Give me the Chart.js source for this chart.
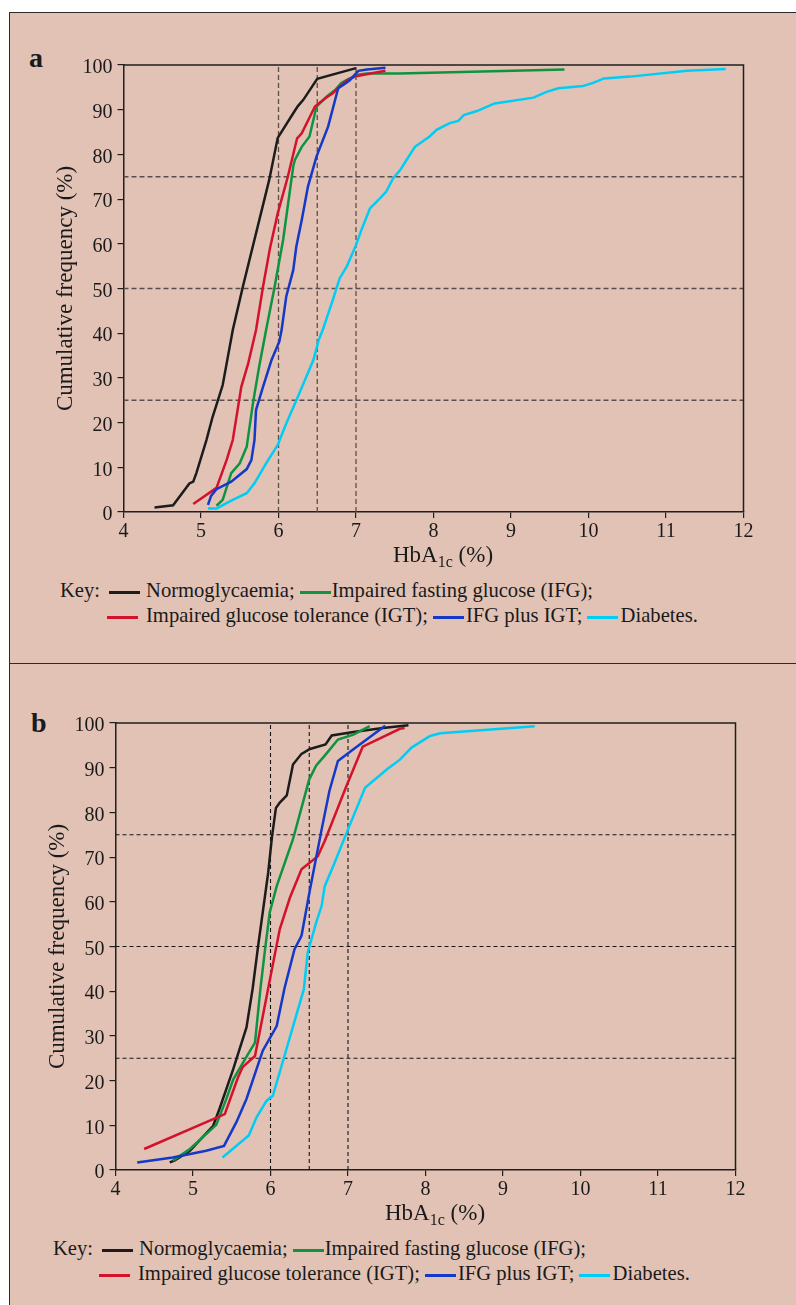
<!DOCTYPE html>
<html>
<head>
<meta charset="utf-8">
<title>HbA1c cumulative frequency</title>
<script src="https://cdn.jsdelivr.net/npm/chart.js"></script>
<style>
    body {
        margin: 0;
        padding: 0;
        width: 796px;
        height: 1305px;
        overflow: hidden;
        position: relative;
        background: #ffffff;
        color: #1a1a1a;
        font-family: "Liberation Serif", serif;
    }
    .panel {
        position: absolute;
        left: 9px;
        width: 800px;
        background: #e1c2b5;
        border: 1.5px solid #2a2a2a;
        border-right: none;
        box-sizing: border-box;
    }
    #panelA { top: 12px; height: 652px; }
    #panelB { top: 664px; height: 700px; border-top: none; border-bottom: none; }
    .tag {
        position: absolute;
        font-weight: bold;
        font-size: 28px;
        line-height: 28px;
    }
    canvas { position: absolute; }
    .xtitle {
        position: absolute;
        font-size: 23px;
        line-height: 26px;
        white-space: nowrap;
    }
    .xtitle sub { font-size: 16px; vertical-align: -5px; line-height: 0; }
    .row {
        position: absolute;
        font-size: 20.6px;
        line-height: 24px;
        white-space: nowrap;
    }
    .ln {
        display: inline-block;
        width: 31px;
        height: 0;
        border-top: 3px solid;
        vertical-align: middle;
    }
</style>
</head>
<body>
    <div class="panel" id="panelA"></div>
    <div class="panel" id="panelB"></div>

    <div class="tag" style="left:29px; top:44px;">a</div>
    <div class="tag" style="left:31px; top:709px;">b</div>

    <canvas id="chartA" width="760" height="510" style="left:20px; top:40px;"></canvas>
    <canvas id="chartB" width="760" height="510" style="left:12px; top:698px;"></canvas>

    <div class="xtitle" style="left:393px; top:542px;">HbA<sub>1c</sub> (%)</div>
    <div class="xtitle" style="left:385px; top:1200px;">HbA<sub>1c</sub> (%)</div>

    <!-- key, panel a -->
    <div class="row" style="left:60px; top:578px;"><span>Key:</span><span class="ln" style="margin:0 6px 0 9px; border-color:#1c1c1c"></span><span>Normoglycaemia;</span><span class="ln" style="margin:0 1px 0 5px; border-color:#0e9440"></span><span>Impaired fasting glucose (IFG);</span></div>
    <div class="row" style="left:107px; top:603px;"><span class="ln" style="margin:0 8px 0 0; border-color:#d4122c"></span><span>Impaired glucose tolerance (IGT);</span><span class="ln" style="margin:0 2px 0 5px; border-color:#1438c8"></span><span>IFG plus IGT;</span><span class="ln" style="margin:0 3px 0 4px; border-color:#00cdf5"></span><span>Diabetes.</span></div>

    <!-- key, panel b -->
    <div class="row" style="left:53px; top:1236px;"><span>Key:</span><span class="ln" style="margin:0 6px 0 9px; border-color:#1c1c1c"></span><span>Normoglycaemia;</span><span class="ln" style="margin:0 1px 0 5px; border-color:#0e9440"></span><span>Impaired fasting glucose (IFG);</span></div>
    <div class="row" style="left:99px; top:1261px;"><span class="ln" style="margin:0 8px 0 0; border-color:#d4122c"></span><span>Impaired glucose tolerance (IGT);</span><span class="ln" style="margin:0 2px 0 5px; border-color:#1438c8"></span><span>IFG plus IGT;</span><span class="ln" style="margin:0 3px 0 4px; border-color:#00cdf5"></span><span>Diabetes.</span></div>

<script>
// axis limits and reference lines
const xRange = [4, 12];
const yRange = [0, 100];
const refX = [6, 6.5, 7];
const refY = [25, 50, 75];

const seriesNames = ['Normoglycaemia', 'Impaired fasting glucose (IFG)', 'Impaired glucose tolerance (IGT)', 'IFG plus IGT', 'Diabetes'];
const seriesColors = ['#1c1c1c', '#0e9440', '#d4122c', '#1438c8', '#00cdf5'];

// panel a
const aNormX = [4.40, 4.64, 4.85, 4.90, 4.94, 5.07, 5.15, 5.22, 5.28, 5.41, 5.54, 5.88, 5.99, 6.19, 6.25, 6.32, 6.50, 7.00];
const aNormY = [1.0, 1.5, 6.4, 6.8, 8.7, 16.1, 21.3, 25.1, 28.4, 40.7, 50.4, 74.3, 83.7, 89.2, 90.8, 92.2, 96.9, 99.3];
const aIfgX = [5.20, 5.28, 5.39, 5.50, 5.59, 5.67, 5.75, 5.84, 5.95, 6.06, 6.19, 6.21, 6.30, 6.40, 6.49, 6.62, 6.73, 6.81, 6.92, 7.03, 7.14, 7.56, 9.69];
const aIfgY = [1.4, 2.7, 8.7, 10.9, 14.6, 24.3, 32.5, 40.7, 50.4, 60.9, 77.3, 78.7, 81.7, 84.0, 90.7, 92.9, 94.4, 96.0, 97.0, 97.8, 98.1, 98.1, 99.0];
const aIgtX = [4.90, 5.20, 5.33, 5.41, 5.52, 5.61, 5.71, 5.80, 5.89, 5.99, 6.12, 6.24, 6.30, 6.47, 6.60, 6.70, 6.88, 7.00, 7.38];
const aIgtY = [1.8, 5.4, 11.6, 16.1, 28.0, 33.3, 40.7, 50.4, 59.0, 66.8, 75.0, 83.6, 84.7, 90.7, 92.5, 93.7, 96.6, 97.5, 98.7];
const aBothX = [5.09, 5.13, 5.20, 5.39, 5.59, 5.65, 5.69, 5.71, 5.80, 5.91, 6.01, 6.04, 6.10, 6.19, 6.23, 6.30, 6.38, 6.49, 6.64, 6.77, 6.83, 6.92, 7.03, 7.14, 7.38];
const aBothY = [1.6, 3.6, 5.1, 6.8, 9.6, 11.6, 16.1, 22.8, 28.0, 34.0, 38.1, 40.7, 48.2, 54.1, 59.4, 65.3, 72.8, 79.5, 86.2, 94.8, 95.5, 96.6, 98.7, 99.0, 99.4];
const aDiabX = [5.09, 5.20, 5.41, 5.59, 5.69, 5.84, 5.99, 6.10, 6.25, 6.45, 6.52, 6.57, 6.70, 6.79, 6.88, 7.00, 7.07, 7.18, 7.29, 7.39, 7.48, 7.57, 7.65, 7.76, 7.95, 8.04, 8.21, 8.32, 8.39, 8.56, 8.79, 9.29, 9.46, 9.61, 9.93, 10.06, 10.20, 10.54, 11.27, 11.77];
const aDiabY = [0.8, 0.8, 2.7, 4.2, 6.4, 10.9, 15.0, 19.8, 25.8, 34.0, 38.5, 40.7, 47.4, 52.3, 54.9, 59.7, 63.1, 67.9, 69.8, 71.7, 74.7, 76.5, 78.7, 81.7, 84.0, 85.5, 87.0, 87.5, 88.8, 89.7, 91.4, 92.7, 94.0, 94.8, 95.3, 96.0, 97.0, 97.4, 98.7, 99.1];

// panel b
const bNormX = [4.70, 4.76, 4.96, 5.26, 5.34, 5.52, 5.69, 5.77, 5.84, 5.97, 6.02, 6.07, 6.12, 6.21, 6.29, 6.40, 6.51, 6.71, 6.79, 7.07, 7.45, 7.78];
const bNormY = [1.7, 2.1, 4.3, 9.9, 13.6, 22.6, 31.9, 40.6, 50.1, 66.5, 74.7, 81.0, 82.2, 83.8, 90.7, 93.1, 94.2, 95.2, 97.2, 98.0, 98.9, 99.5];
const bIfgX = [4.74, 4.96, 5.30, 5.43, 5.52, 5.71, 5.80, 5.87, 5.93, 5.99, 6.08, 6.29, 6.50, 6.59, 6.70, 6.87, 7.07, 7.28];
const bIfgY = [2.1, 4.7, 10.1, 15.9, 20.3, 25.9, 28.5, 40.6, 49.4, 57.6, 63.5, 74.0, 87.4, 90.5, 92.7, 96.3, 97.4, 99.3];
const bIgtX = [4.37, 5.41, 5.58, 5.64, 5.80, 5.86, 5.98, 6.12, 6.25, 6.40, 6.61, 6.70, 6.98, 7.19, 7.67, 7.73];
const bIgtY = [4.7, 12.5, 20.7, 23.0, 25.5, 30.8, 41.5, 53.9, 60.9, 67.3, 70.2, 73.6, 85.9, 94.7, 98.7, 98.9];
const bBothX = [4.28, 4.74, 5.17, 5.40, 5.56, 5.69, 5.90, 6.08, 6.18, 6.31, 6.40, 6.51, 6.66, 6.76, 6.87, 7.07, 7.48];
const bBothY = [1.7, 2.8, 4.3, 5.4, 10.7, 15.9, 26.7, 32.2, 40.6, 49.4, 52.4, 62.8, 76.2, 84.8, 91.5, 94.1, 99.4];
const bDiabX = [5.38, 5.72, 5.82, 5.95, 6.03, 6.18, 6.33, 6.43, 6.48, 6.51, 6.59, 6.66, 6.70, 6.81, 7.00, 7.22, 7.50, 7.67, 7.82, 8.06, 8.19, 9.41];
const bDiabY = [2.8, 7.7, 11.8, 15.5, 16.6, 25.5, 34.5, 40.4, 48.6, 50.5, 55.4, 59.1, 63.5, 68.0, 76.2, 85.5, 89.6, 91.8, 94.5, 97.1, 97.7, 99.3];

function pts(xs, ys) {
    return xs.map((x, i) => ({ x: x, y: ys[i] }));
}

// top and right edges of the plot box
const framePlugin = {
    id: 'frame',
    afterDraw(chart) {
        const { ctx, chartArea: a } = chart;
        ctx.save();
        ctx.strokeStyle = '#1f1f1f';
        ctx.lineWidth = 1.5;
        ctx.beginPath();
        ctx.moveTo(a.left, a.top);
        ctx.lineTo(a.right, a.top);
        ctx.lineTo(a.right, a.bottom);
        ctx.stroke();
        ctx.restore();
    }
};

function makeChart(id, series, refColor, refWidth, refDash) {
    const datasets = [];
    series.forEach((s, i) => {
        datasets.push({
            label: seriesNames[i],
            data: pts(s[0], s[1]),
            borderColor: seriesColors[i],
            borderWidth: 2.5,
            pointRadius: 0,
            tension: 0,
            order: 5 - i
        });
    });
    refX.forEach(v => {
        datasets.push({
            label: 'ref',
            data: [{ x: v, y: yRange[0] }, { x: v, y: yRange[1] }],
            borderColor: refColor, borderWidth: refWidth, borderDash: refDash,
            pointRadius: 0, order: 20
        });
    });
    refY.forEach(v => {
        datasets.push({
            label: 'ref',
            data: [{ x: xRange[0], y: v }, { x: xRange[1], y: v }],
            borderColor: refColor, borderWidth: refWidth, borderDash: refDash,
            pointRadius: 0, order: 20
        });
    });

    const tickFont = { family: 'Liberation Serif', size: 20 };
    return new Chart(document.getElementById(id), {
        type: 'line',
        data: { datasets: datasets },
        options: {
            responsive: false,
            animation: false,
            layout: { padding: { left: 0, top: 25, right: 36.5, bottom: 0 } },
            plugins: { legend: { display: false }, tooltip: { enabled: false } },
            scales: {
                x: {
                    type: 'linear',
                    min: xRange[0], max: xRange[1],
                    ticks: { stepSize: 1, color: '#1a1a1a', font: tickFont, padding: 2, maxRotation: 0 },
                    grid: { drawOnChartArea: false, drawTicks: true, tickLength: 6, color: '#1f1f1f', lineWidth: 1.2 },
                    border: { color: '#1f1f1f', width: 1.5 },
                    afterFit(scale) { scale.height = 38; }
                },
                y: {
                    min: yRange[0], max: yRange[1],
                    ticks: { stepSize: 10, color: '#1a1a1a', font: tickFont, padding: 5, labelOffset: 3 },
                    grid: { drawOnChartArea: false, drawTicks: true, tickLength: 6, color: '#1f1f1f', lineWidth: 1.2 },
                    border: { color: '#1f1f1f', width: 1.5 },
                    title: {
                        display: true,
                        text: 'Cumulative frequency (%)',
                        color: '#1a1a1a',
                        font: { family: 'Liberation Serif', size: 23 },
                        padding: { top: 32, bottom: 0 }
                    },
                    afterFit(scale) { scale.width = 103.5; }
                }
            }
        },
        plugins: [framePlugin]
    });
}

makeChart('chartA', [[aNormX, aNormY], [aIfgX, aIfgY], [aIgtX, aIgtY], [aBothX, aBothY], [aDiabX, aDiabY]], '#5a4e4a', 1.3, [5, 3]);
makeChart('chartB', [[bNormX, bNormY], [bIfgX, bIfgY], [bIgtX, bIgtY], [bBothX, bBothY], [bDiabX, bDiabY]], '#151515', 1.1, [4, 3]);
</script>
</body>
</html>
